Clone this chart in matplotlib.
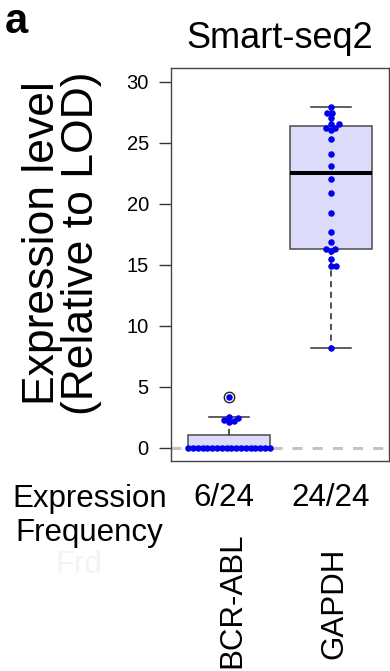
import numpy as np
import matplotlib
matplotlib.use("Agg")
import matplotlib.pyplot as plt

plt.rcParams['font.family'] = ['Liberation Sans', 'DejaVu Sans']

# data (expression relative to LOD, 24 cells per gene)
genes = ["BCR-ABL", "GAPDH"]
frequency = ["6/24", "24/24"]
bcr_abl = [0.0] * 18 + [2.54, 2.45, 2.27, 2.2, 2.13, 4.13]
gapdh = [27.9, 27.4, 27.4, 27.0, 26.5, 26.5, 26.2, 26.2, 26.0, 25.3, 24.1, 23.1,
         22.0, 20.9, 19.2, 17.7, 16.9, 16.3, 16.3, 16.1, 15.5, 14.9, 14.9, 8.15]
yticks = [0, 5, 10, 15, 20, 25, 30]

DPI = 100
fig = plt.figure(figsize=(3.9, 6.71), dpi=DPI)
ax = fig.add_axes([171 / 390, 1 - 461 / 671, 218 / 390, 393 / 671])
ax.set_xlim(0.431, 2.569)
ax.set_ylim(-1.09, 31.12)


def fivenum_stats(vals, label):
    # R style boxplot stats (Tukey hinges, 1.5 IQR whiskers)
    v = np.sort(np.asarray(vals, float))
    n = len(v)
    med = np.median(v)
    half = (n + 1) // 2
    q1 = np.median(v[:half])
    q3 = np.median(v[n - half:])
    iqr = q3 - q1
    inside = v[(v >= q1 - 1.5 * iqr) & (v <= q3 + 1.5 * iqr)]
    fl = v[(v < q1 - 1.5 * iqr) | (v > q3 + 1.5 * iqr)]
    return dict(label=label, med=med, q1=q1, q3=q3, whislo=inside.min(),
                whishi=inside.max(), fliers=fl)


def swarm_x(vals, pos, gap=5.0, half_width=0.4):
    vals = np.asarray(vals, float)
    ypx = ax.transData.transform(np.column_stack([np.full(len(vals), pos), vals]))[:, 1]
    px_per_x = ax.transData.transform((1, 0))[0] - ax.transData.transform((0, 0))[0]
    steps = np.arange(0.5, 100, 0.5)
    cands = np.concatenate([[0], np.ravel(np.column_stack([steps, -steps]))])
    offs = np.zeros(len(vals))
    placed = []
    for i in np.argsort(vals, kind='stable'):
        for c in cands:
            if all((c - px) ** 2 + (ypx[i] - py) ** 2 >= gap ** 2 for px, py in placed):
                break
        offs[i] = c
        placed.append((c, ypx[i]))
    offs = offs / px_per_x
    # tied values too wide for the box get spread evenly across it
    for v in np.unique(vals):
        idx = np.where(vals == v)[0]
        if np.abs(offs[idx]).max() > half_width:
            offs[idx] = np.linspace(-half_width, half_width, len(idx))
    return pos + offs


data = [bcr_abl, gapdh]
positions = [1, 2]
stats = [fivenum_stats(d, g) for d, g in zip(data, genes)]

# LOD reference line
ax.axhline(0, color='#c4c4c4', lw=2.2, ls=(0, (3.3, 3.3)), zorder=1)

ax.bxp(stats, positions=positions, widths=0.8, patch_artist=True,
       boxprops=dict(facecolor='#dcdcfa', edgecolor='#4a4a4a', lw=1.1),
       medianprops=dict(color='black', lw=2.9),
       whiskerprops=dict(color='#222222', lw=1.1, ls=(0, (4, 3))),
       capprops=dict(color='#333333', lw=1.1),
       capwidths=0.4,
       flierprops=dict(marker='o', mfc='none', mec='#222222', ms=7.5, mew=1.0),
       zorder=2)

for d, p in zip(data, positions):
    ax.scatter(swarm_x(d, p), d, s=22, color='#0000ee', lw=0, zorder=4)

ax.set_xticks([])
ax.set_yticks(yticks)
ax.tick_params(axis='y', length=9, width=1, pad=7, labelsize=14.5, color='#333333')
for s in ax.spines.values():
    s.set_color('#444444')
    s.set_linewidth(1.0)

# titles and labels
fig.text(5 / 390, 1 - 33 / 671, "a", fontsize=30, fontweight='bold', va='baseline')
fig.text(280 / 390, 1 - 48 / 671, "Smart-seq2", fontsize=26, ha='center', va='baseline')
fig.text(62 / 390, 1 - 243 / 671, "Expression level\n(Relative to LOD)", fontsize=32,
         rotation=90, ha='center', va='center', multialignment='center', linespacing=0.95)

fig.text(90 / 390, 1 - 506.5 / 671, "Expression", fontsize=22.5, ha='center', va='baseline')
fig.text(89 / 390, 1 - 541.5 / 671, "Frequency", fontsize=22.5, ha='center', va='baseline')
fig.text(79 / 390, 1 - 573 / 671, "Frd", fontsize=22.5, ha='center', va='baseline', color='#f3f3f3')
for f, xc in zip(frequency, [224, 331]):
    fig.text(xc / 390, 1 - 506.5 / 671, f, fontsize=22.5, ha='center', va='baseline')
for g, xc, top in zip(genes, [232, 334], [533, 548]):
    fig.text(xc / 390, 1 - top / 671, g, fontsize=22.5, rotation=90, ha='center', va='top')

fig.savefig("out.png", dpi=DPI)
